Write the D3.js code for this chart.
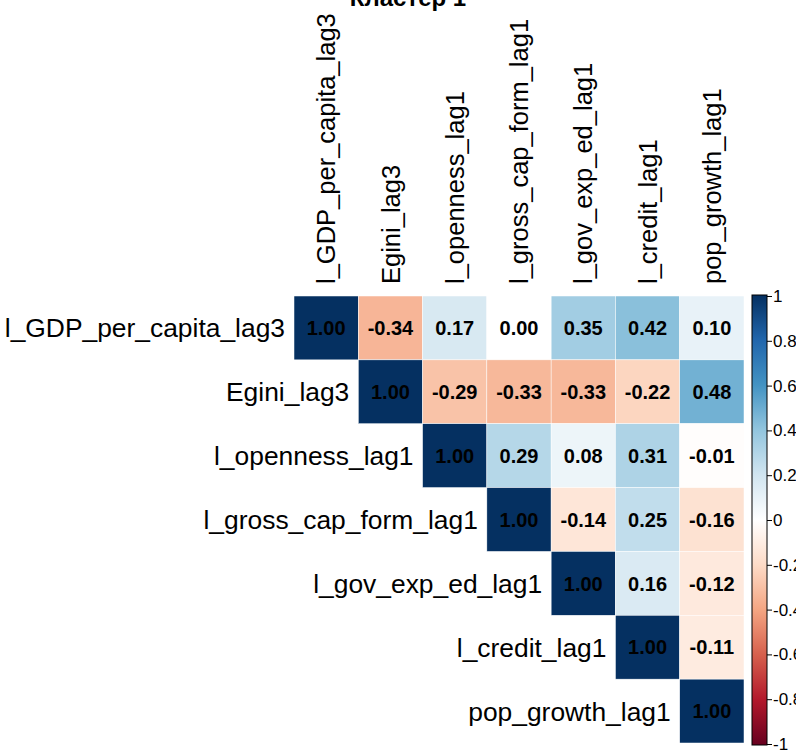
<!DOCTYPE html>
<html><head><meta charset="utf-8">
<script src="https://cdn.jsdelivr.net/npm/d3@7"></script>
<style>body{margin:0;background:#fff;overflow:hidden}</style>
</head><body>
<svg id="c" width="796" height="750"></svg>
<script>
const title = "Кластер 1";
const variables = ["l_GDP_per_capita_lag3","Egini_lag3","l_openness_lag1","l_gross_cap_form_lag1","l_gov_exp_ed_lag1","l_credit_lag1","pop_growth_lag1"];
// upper triangle rows (starting at the diagonal)
const row0 = [1.00,-0.34,0.17,0.00,0.35,0.42,0.10];
const row1 = [1.00,-0.29,-0.33,-0.33,-0.22,0.48];
const row2 = [1.00,0.29,0.08,0.31,-0.01];
const row3 = [1.00,-0.14,0.25,-0.16];
const row4 = [1.00,0.16,-0.12];
const row5 = [1.00,-0.11];
const row6 = [1.00];
const rows = [row0,row1,row2,row3,row4,row5,row6];
const legendTicks = [1,0.8,0.6,0.4,0.2,0,-0.2,-0.4,-0.6,-0.8,-1];
const paletteStops = ["#67001F","#B2182B","#D6604D","#F4A582","#FDDBC7","#FFFFFF","#D1E5F0","#92C5DE","#4393C3","#2166AC","#053061"];

const cells = [];
rows.forEach((r,i)=>r.forEach((v,k)=>cells.push({i, j:i+k, v})));

const FONT = "Liberation Sans, Arial, sans-serif";
const svg = d3.select("#c");
const x = d3.scaleBand().domain(d3.range(variables.length)).range([294,744]);
const y = d3.scaleBand().domain(d3.range(variables.length)).range([296,743]);
const color = d3.scaleLinear().domain(d3.range(11).map(k=>-1+k*0.2)).range(paletteStops).interpolate(d3.interpolateRgb);

svg.append("text").attr("x",408).attr("y",6).attr("text-anchor","middle")
  .attr("font-family",FONT).attr("font-weight","bold").attr("font-size",24).text(title);

svg.append("g").selectAll("rect").data(cells).join("rect")
  .attr("x",d=>x(d.j)).attr("y",d=>y(d.i)).attr("width",x.bandwidth()).attr("height",y.bandwidth())
  .attr("fill",d=>color(d.v)).attr("stroke","#fff").attr("stroke-width",0.5);

svg.append("g").selectAll("text").data(cells).join("text")
  .attr("x",d=>x(d.j)+x.bandwidth()/2).attr("y",d=>y(d.i)+y.bandwidth()/2)
  .attr("dy","0.36em").attr("text-anchor","middle")
  .attr("font-family",FONT).attr("font-weight","bold").attr("font-size",20)
  .attr("fill","#000").text(d=>d.v.toFixed(2));

// row labels
svg.append("g").selectAll("text").data(variables).join("text")
  .attr("x",(d,i)=>x(i)-9).attr("y",(d,i)=>y(i)+y.bandwidth()/2).attr("dy","0.36em")
  .attr("text-anchor","end").attr("font-family",FONT).attr("font-size",26.4)
  .attr("fill","#000").text(d=>d);

// column labels
svg.append("g").selectAll("text").data(variables).join("text")
  .attr("transform",(d,i)=>`translate(${x(i)+x.bandwidth()/2},284) rotate(-90)`)
  .attr("dy","0.36em").attr("text-anchor","start").attr("font-family",FONT).attr("font-size",25.5)
  .attr("fill","#000").text(d=>d);

// color legend
const ly = d3.scaleLinear().domain([-1,1]).range([744,296]);
const defs = svg.append("defs");
const grad = defs.append("linearGradient").attr("id","g").attr("x1",0).attr("y1",1).attr("x2",0).attr("y2",0);
paletteStops.forEach((c,k)=>grad.append("stop").attr("offset",k/10).attr("stop-color",c));
svg.append("rect").attr("x",752).attr("y",ly(1)-1).attr("width",15).attr("height",ly(-1)-ly(1)+2)
  .attr("fill","url(#g)").attr("stroke","#000").attr("stroke-width",1);
const axis = d3.axisRight(ly).tickValues(legendTicks).tickSize(5).tickPadding(1).tickFormat(d=>String(Math.round(d*10)/10));
const ag = svg.append("g").attr("transform","translate(767,0)").call(axis);
ag.select(".domain").remove();
ag.selectAll("text").attr("font-family",FONT).attr("font-size",17).attr("fill","#000");
ag.selectAll("line").attr("stroke","#000");
</script>
</body></html>
